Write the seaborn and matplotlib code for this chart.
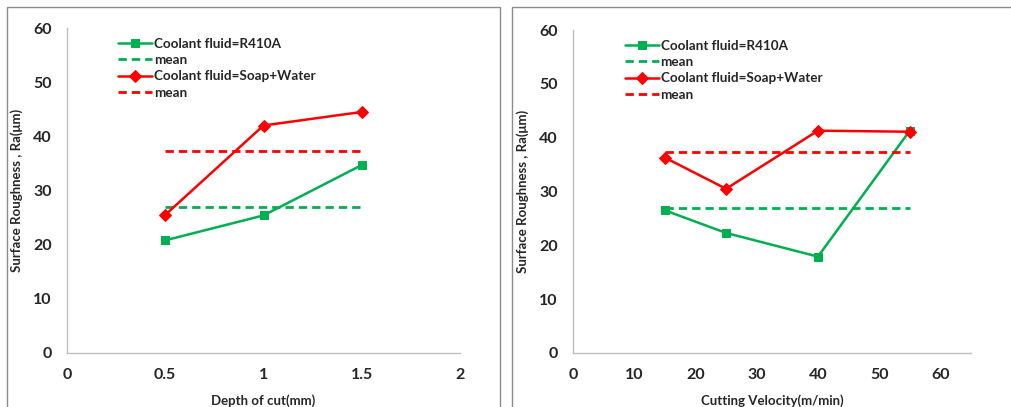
import numpy as np
import pandas as pd
import matplotlib.pyplot as plt
import seaborn as sns
from matplotlib.patches import Rectangle
from matplotlib.ticker import MultipleLocator

# data
depth = [0.5, 1.0, 1.5]
depth_r410a = [20.8, 25.4, 34.7]
depth_soap = [25.5, 42.0, 44.5]

velocity = [15, 25, 40, 55]
vel_r410a = [26.5, 22.3, 17.9, 41.3]
vel_soap = [36.3, 30.5, 41.3, 41.1]

lab_r410a = "Coolant fluid=R410A"
lab_soap = "Coolant fluid=Soap+Water"
GREEN = "#00B050"
RED = "#FF0000"

sns.set_style("white")
plt.rcParams['font.family'] = ['Lato', 'DejaVu Sans']

fig = plt.figure(figsize=(10.11, 4.07), dpi=100)
# panel frames
for x0, w in [(7, 493), (512, 520)]:
    fig.patches.append(Rectangle((x0 / 1011, -0.05), w / 1011, 1 - 7 / 407 + 0.05,
                                 transform=fig.transFigure, fill=False,
                                 edgecolor="#8c8c8c", lw=1.0))

ax1 = fig.add_axes([67 / 1011, 1 - 353 / 407, 393 / 1011, 325 / 407])
ax2 = fig.add_axes([573 / 1011, 1 - 353 / 407, 398 / 1011, 323 / 407])


def draw(ax, x, g, r, xlim, xmaj, xmin, xlabel):
    df = pd.DataFrame({"x": x, "g": g, "r": r})
    sns.lineplot(data=df, x="x", y="g", ax=ax, color=GREEN, marker="s", markersize=6,
                 markeredgecolor=GREEN, lw=1.8, label=lab_r410a)
    mean_g = pd.DataFrame({"x": [x[0], x[-1]], "y": [np.mean(g)] * 2})
    sns.lineplot(data=mean_g, x="x", y="y", ax=ax, color=GREEN, lw=2.0,
                 linestyle=(0, (3, 1.8)), label="mean")
    sns.lineplot(data=df, x="x", y="r", ax=ax, color=RED, marker="D", markersize=6,
                 markeredgecolor=RED, lw=1.8, label=lab_soap)
    mean_r = pd.DataFrame({"x": [x[0], x[-1]], "y": [np.mean(r)] * 2})
    sns.lineplot(data=mean_r, x="x", y="y", ax=ax, color=RED, lw=2.0,
                 linestyle=(0, (3, 1.8)), label="mean")

    ax.set_xlim(*xlim)
    ax.set_ylim(0, 60)
    ax.xaxis.set_major_locator(MultipleLocator(xmaj))
    ax.xaxis.set_minor_locator(MultipleLocator(xmin))
    ax.yaxis.set_major_locator(MultipleLocator(10))
    ax.yaxis.set_minor_locator(MultipleLocator(2))
    ax.set_xticks(ax.get_xticks())
    ax.set_xticklabels([f"{t:g}" for t in ax.get_xticks()])
    ax.set_xlim(*xlim)
    for s in ["top", "right"]:
        ax.spines[s].set_visible(False)
    for s in ["left", "bottom"]:
        ax.spines[s].set_color("#bfbfbf")
        ax.spines[s].set_linewidth(1.0)
    ax.tick_params(which="major", direction="out", length=5, color="#bfbfbf",
                   labelsize=11.5, labelcolor="#262626", pad=6)
    ax.tick_params(which="minor", direction="in", length=3, color="#d9d9d9")
    for t in ax.get_xticklabels() + ax.get_yticklabels():
        t.set_fontweight("bold")
    ax.set_xlabel(xlabel, fontsize=9.5, fontweight="bold", color="#262626", labelpad=9)
    ax.set_ylabel("Surface Roughness , Ra(\u03bcm)", fontsize=9.5, fontweight="bold",
                  color="#262626", labelpad=7)
    leg = ax.legend(loc="upper left", bbox_to_anchor=(0.11, 0.995), frameon=False,
                    fontsize=9.7, handlelength=2.5, handletextpad=0.15, labelspacing=0.32,
                    borderaxespad=0.2)
    for t in leg.get_texts():
        t.set_fontweight("bold")
        t.set_color("#262626")


draw(ax1, depth, depth_r410a, depth_soap, (0, 2), 0.5, 0.1, "Depth of cut(mm)")
draw(ax2, velocity, vel_r410a, vel_soap, (0, 65), 10, 5, "Cutting Velocity(m/min)")

fig.savefig("out.png", dpi=100)
